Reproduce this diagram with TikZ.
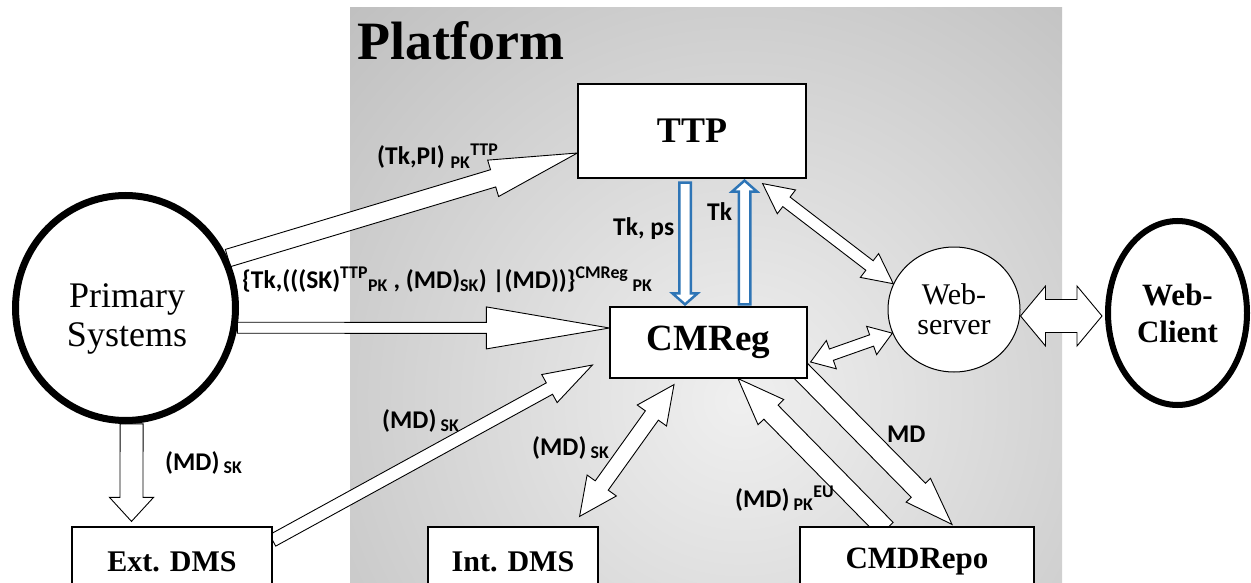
\documentclass[tikz,border=0pt]{standalone}
\usepackage{fontspec}
\setmainfont{Liberation Serif}
\newfontfamily\lblfont{Carlito}
\usetikzlibrary{calc,shapes.geometric}

\definecolor{arrblue}{HTML}{2E75B6}
\pgfdeclarelayer{shade}
\pgfdeclarelayer{arrows}
\pgfsetlayers{shade,arrows,main}

\tikzset{
  box/.style={draw, fill=white, line width=1.2pt, inner sep=0pt},
  blockarr/.style={draw, fill=white, line width=0.9pt, line join=miter},
  bluearr/.style={draw=arrblue, fill=white, line width=2.5pt, line join=miter},
  lbl/.style={font=\fontsize{25.5}{28}\lblfont\bfseries, inner sep=0pt, anchor=base west},
}

% [style]{from}{to}{shaft half width}{head half width}{head length}
\newcommand{\blockarrow}[6][blockarr]{%
  \begin{pgfonlayer}{arrows}
  \coordinate (ba-h) at ($(#3)!#6!(#2)$);
  \draw[#1] ($(#2)!#4!90:(#3)$) -- ($(ba-h)!#4!90:(#3)$) -- ($(ba-h)!#5!90:(#3)$) -- (#3)
    -- ($(ba-h)!#5!-90:(#3)$) -- ($(ba-h)!#4!-90:(#3)$) -- ($(#2)!#4!-90:(#3)$) -- cycle;
  \end{pgfonlayer}}
\newcommand{\dblarrow}[6][blockarr]{%
  \begin{pgfonlayer}{arrows}
  \coordinate (da-a) at ($(#2)!#6!(#3)$);
  \coordinate (da-b) at ($(#3)!#6!(#2)$);
  \draw[#1] (#2) -- ($(da-a)!#5!90:(#3)$) -- ($(da-a)!#4!90:(#3)$) -- ($(da-b)!#4!90:(#3)$)
    -- ($(da-b)!#5!90:(#3)$) -- (#3) -- ($(da-b)!#5!-90:(#3)$) -- ($(da-b)!#4!-90:(#3)$)
    -- ($(da-a)!#4!-90:(#3)$) -- ($(da-a)!#5!-90:(#3)$) -- cycle;
  \end{pgfonlayer}}

\begin{document}
\begin{tikzpicture}[x=1pt,y=-1pt]
  \useasboundingbox (0,0) rectangle (1251,583);
  \begin{pgfonlayer}{shade}
    \fill[white] (0,0) rectangle (1251,583);
    \begin{scope}
      \clip (350,8) rectangle (1062,600);
      \shade[inner color=gray!12, outer color=gray!50] (740,400) circle (560);
    \end{scope}
  \end{pgfonlayer}
  \node[font=\fontsize{54}{60}\selectfont\bfseries, anchor=base west, inner sep=0pt] (platform) at (357,60) {Platform};

  \node[box, minimum width=228pt, minimum height=94pt, font=\fontsize{36}{40}\selectfont\bfseries] (ttp) at (692,131) {TTP};
  \node[box, minimum width=197pt, minimum height=71pt, font=\fontsize{37}{40}\selectfont\bfseries] (cmreg) at (708.5,342.5) {CMReg};
  \node[box, minimum width=200pt, minimum height=70pt, font=\fontsize{30}{34}\selectfont\bfseries] (extdms) at (172,562) {Ext. DMS};
  \node[box, minimum width=170pt, minimum height=70pt, font=\fontsize{30}{34}\selectfont\bfseries] (intdms) at (513,562) {Int. DMS};
  \node[box, minimum width=234pt, minimum height=70pt, font=\fontsize{31}{34}\selectfont\bfseries] (cmdrepo) at (917,562) {CMDRepo};
  \node[draw, ellipse, fill=white, line width=7pt, minimum width=220pt, minimum height=225pt, inner sep=0pt] (prim) at (125.5,308) {};
  \node[font=\fontsize{36}{39}\selectfont, align=center, inner sep=0pt] (primtxt) at (127,319) {Primary\\Systems};
  \node[draw, ellipse, fill=white, line width=1pt, minimum width=132pt, minimum height=125pt, inner sep=0pt,
        align=center, font=\fontsize{30}{30}\selectfont] (websrv) at (954,309.5) {Web-\\server};
  \node[draw, ellipse, fill=white, line width=6pt, minimum width=139pt, minimum height=184pt, inner sep=0pt,
        align=center, font=\fontsize{31}{37}\selectfont\bfseries] (webcli) at (1177.5,313) {Web-\\Client};

  \blockarrow{prim.26}{[yshift=-22pt]ttp.west}{9pt}{19pt}{88pt}
  \blockarrow{prim.-10}{[yshift=14.5pt]cmreg.west}{5.5pt}{21pt}{123pt}
  \blockarrow{prim.-87}{[xshift=-40.5pt,yshift=5pt]extdms.north}{11.5pt}{22pt}{24pt}
  \blockarrow{[yshift=-14pt]extdms.north east}{[xshift=-17pt,yshift=-22.5pt]cmreg.west}{6.5pt}{16pt}{49pt}
  \dblarrow{[xshift=-19pt,yshift=10pt]intdms.north east}{[xshift=-34.5pt,yshift=-6pt]cmreg.south}{8pt}{18pt}{38pt}
  \dblarrow{[xshift=3pt,yshift=-19.5pt]cmreg.east}{websrv.201}{6pt}{15pt}{22pt}
  \dblarrow{[xshift=-44pt,yshift=-5pt]ttp.south east}{websrv.157}{6pt}{15pt}{30pt}
  \blockarrow{[xshift=-7pt,yshift=8pt]cmreg.south east}{[xshift=35pt,yshift=2pt]cmdrepo.north}{10pt}{17pt}{48pt}
  \blockarrow{[xshift=-31pt,yshift=-3pt]cmdrepo.north}{[xshift=29.5pt]cmreg.south}{10pt}{18pt}{47pt}
  \dblarrow{[yshift=-6.5pt]websrv.east}{[xshift=-3pt,yshift=-3pt]webcli.west}{16.5pt}{30pt}{25pt}
  \blockarrow[bluearr]{[xshift=-7pt,yshift=-4pt]ttp.south}{[xshift=-23.5pt,yshift=2pt]cmreg.north}{5.75pt}{12.5pt}{11pt}
  \blockarrow[bluearr]{[xshift=36pt,yshift=2pt]cmreg.north}{[xshift=52.5pt,yshift=-2pt]ttp.south}{5.75pt}{12.5pt}{11pt}

  \node[lbl] (l-ttp) at (377,165) {(Tk,PI) \textsubscript{PK}\textsuperscript{TTP}};
  \node[lbl] (l-cmreg) at (242,288) {\{Tk,(((SK)\textsuperscript{TTP}\textsubscript{PK} , (MD)\textsubscript{SK}) |(MD))\}\textsuperscript{CMReg}\,\textsubscript{PK}};
  \node[lbl] (l-tkps) at (613,235) {Tk, ps};
  \node[lbl] (l-tk) at (707,220) {Tk};
  \node[lbl] (l-prim) at (165,470) {(MD)\,\textsubscript{SK}};
  \node[lbl] (l-ext) at (382,428) {(MD)\,\textsubscript{SK}};
  \node[lbl] (l-int) at (532,455) {(MD)\,\textsubscript{SK}};
  \node[lbl] (l-md) at (887,442) {MD};
  \node[lbl] (l-eu) at (735,507) {(MD)\,\textsubscript{PK}\textsuperscript{EU}};
\end{tikzpicture}
\end{document}
